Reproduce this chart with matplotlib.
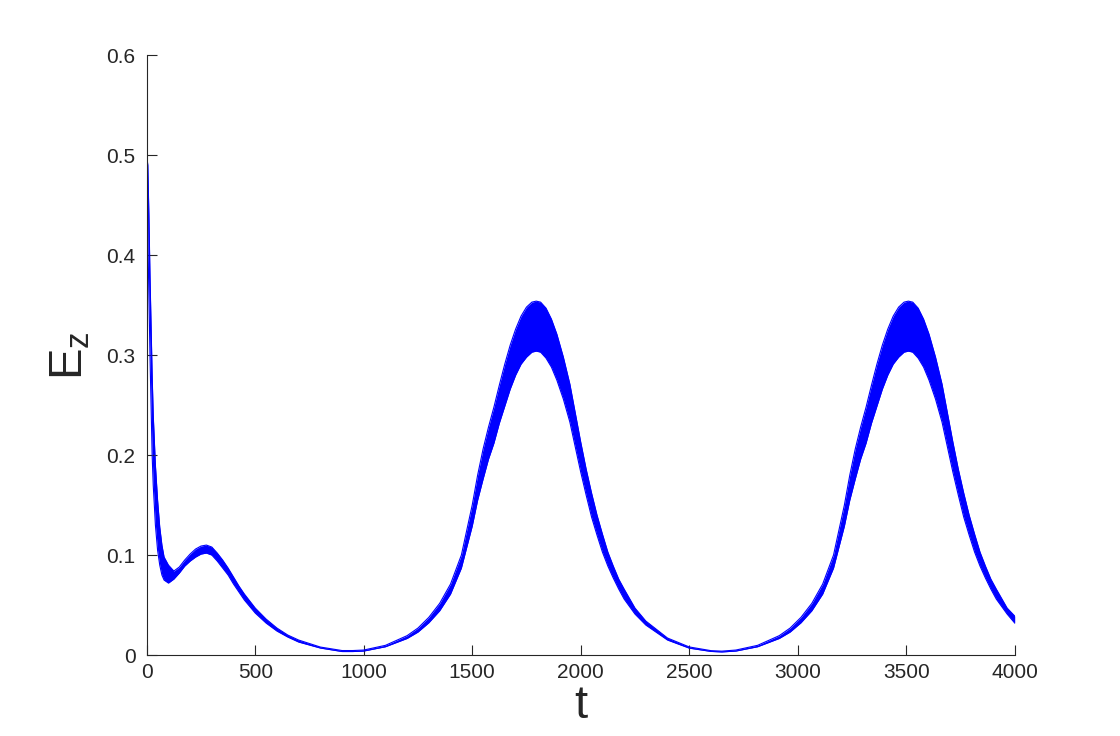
import numpy as np
import matplotlib
matplotlib.use("Agg")
import matplotlib.pyplot as plt

plt.rcParams['font.family'] = ['Liberation Sans', 'DejaVu Sans']
plt.rcParams['mathtext.fontset'] = 'custom'
plt.rcParams['mathtext.rm'] = 'Liberation Sans'
plt.rcParams['mathtext.it'] = 'Liberation Sans'

# time samples and the envelope of the fast oscillation
t = [0, 5, 10, 15, 20, 25, 30, 40, 50, 60, 70, 80, 100, 125, 150, 175, 200,
     225, 250, 275, 300, 325, 350, 375, 400, 425, 450, 500, 550, 600, 650,
     700, 800, 900, 950,
     1000, 1100, 1200, 1250, 1300, 1350, 1400, 1450, 1500, 1525, 1550, 1575,
     1600, 1625, 1650, 1675, 1700, 1725, 1750, 1775, 1795, 1815, 1840, 1865,
     1890, 1920, 1950, 1975, 2000, 2025, 2050, 2075, 2100, 2125, 2150, 2175,
     2200, 2250, 2300, 2400, 2500, 2600, 2650,
     2715, 2815, 2915, 2965, 3015, 3065, 3115, 3165, 3215, 3240, 3265, 3290,
     3315, 3340, 3365, 3390, 3415, 3440, 3465, 3490, 3510, 3530, 3555, 3580,
     3605, 3635, 3665, 3690, 3715, 3740, 3765, 3790, 3815, 3840, 3865, 3890,
     3915, 3965, 4000]

ez_upper = [0.500, 0.490, 0.440, 0.380, 0.330, 0.280, 0.240, 0.190, 0.155,
            0.128, 0.110, 0.098, 0.090, 0.084, 0.088, 0.095, 0.101,
            0.106, 0.109, 0.110, 0.108, 0.102, 0.095, 0.087, 0.078, 0.069,
            0.061, 0.047, 0.036, 0.027, 0.020,
            0.015, 0.008, 0.0045, 0.0045,
            0.0050, 0.0097, 0.0194, 0.027, 0.0377, 0.0517, 0.071, 0.100, 0.150,
            0.180, 0.206, 0.228, 0.248, 0.270, 0.291, 0.310, 0.326, 0.339,
            0.348, 0.353, 0.354, 0.353, 0.347, 0.336, 0.321, 0.298, 0.271,
            0.242, 0.213, 0.186, 0.162, 0.140, 0.121, 0.103, 0.089, 0.076,
            0.066, 0.047, 0.034, 0.017, 0.0081, 0.0044, 0.0039,
            0.0050, 0.0097, 0.0194, 0.027, 0.0377, 0.0517, 0.071, 0.100, 0.150,
            0.180, 0.206, 0.228, 0.248, 0.270, 0.291, 0.310, 0.326, 0.339,
            0.348, 0.353, 0.354, 0.353, 0.347, 0.336, 0.321, 0.298, 0.271,
            0.242, 0.213, 0.186, 0.162, 0.140, 0.121, 0.103, 0.089, 0.076,
            0.066, 0.047, 0.039]

ez_lower = [0.495, 0.420, 0.360, 0.300, 0.250, 0.200, 0.170, 0.130, 0.105,
            0.090, 0.080, 0.075, 0.072, 0.076, 0.082, 0.089, 0.094,
            0.098, 0.101, 0.102, 0.100, 0.094, 0.087, 0.080, 0.071, 0.063,
            0.055, 0.042, 0.032, 0.024, 0.018,
            0.013, 0.007, 0.0035, 0.0035,
            0.0040, 0.0083, 0.0166, 0.023, 0.0323, 0.0443, 0.061, 0.087, 0.129,
            0.155, 0.176, 0.196, 0.212, 0.232, 0.249, 0.266, 0.280, 0.291,
            0.298, 0.303, 0.304, 0.303, 0.297, 0.288, 0.275, 0.256, 0.233,
            0.208, 0.183, 0.160, 0.138, 0.120, 0.103, 0.089, 0.077, 0.066,
            0.056, 0.041, 0.030, 0.015, 0.0069, 0.0036, 0.0031,
            0.0040, 0.0083, 0.0166, 0.023, 0.0323, 0.0443, 0.061, 0.087, 0.129,
            0.155, 0.176, 0.196, 0.212, 0.232, 0.249, 0.266, 0.280, 0.291,
            0.298, 0.303, 0.304, 0.303, 0.297, 0.288, 0.275, 0.256, 0.233,
            0.208, 0.183, 0.160, 0.138, 0.120, 0.103, 0.089, 0.077, 0.066,
            0.056, 0.041, 0.032]

xticks = [0, 500, 1000, 1500, 2000, 2500, 3000, 3500, 4000]
yticks = [0, 0.1, 0.2, 0.3, 0.4, 0.5, 0.6]

fig = plt.figure(figsize=(11.2, 7.36), dpi=100)
ax = fig.add_axes([0.131, 0.110, 0.775, 0.815])

blue = (0, 0, 1)
ax.fill_between(t, ez_lower, ez_upper, color=blue, lw=0)
ax.plot(t, ez_upper, color=blue, lw=0.8)
ax.plot(t, ez_lower, color=blue, lw=0.8)

ax.set_xlim(0, 4000)
ax.set_ylim(0, 0.6)
ax.set_xticks(xticks)
ax.set_yticks(yticks)
ax.set_xticklabels([str(v) for v in xticks])
ax.set_yticklabels(['0', '0.1', '0.2', '0.3', '0.4', '0.5', '0.6'])

ax.spines['top'].set_visible(False)
ax.spines['right'].set_visible(False)
for s in ('left', 'bottom'):
    ax.spines[s].set_color('#262626')
    ax.spines[s].set_linewidth(0.8)
ax.tick_params(direction='in', length=7, width=0.8, colors='#262626',
               labelsize=15, pad=8)
ax.tick_params(axis='x', pad=6)

ax.set_xlabel('t', fontsize=34, color='#262626', labelpad=1)
ax.set_ylabel(r'E$_\mathregular{z}$', fontsize=34, color='#262626', labelpad=10)

fig.savefig('out.png', dpi=100)
